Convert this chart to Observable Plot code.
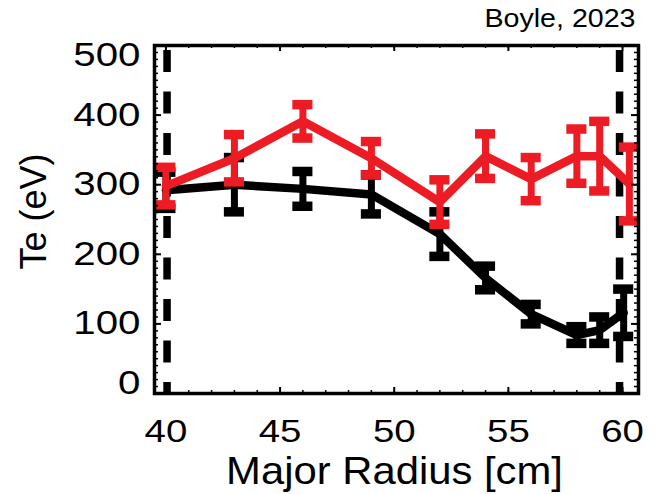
<!DOCTYPE html>
<html><head><meta charset="utf-8">
<script src="https://cdn.jsdelivr.net/npm/d3@7"></script>
<script src="https://cdn.jsdelivr.net/npm/@observablehq/plot@0.6"></script>
<style>
html,body{margin:0;padding:0;background:#fff;}
#chart svg{display:block;}
</style></head><body><div id="chart"></div>
<script>
// ---- data ----
const radiusBlack = [40, 43, 46, 49, 52, 54, 56, 58, 59, 60.05];
const teBlack     = [292, 300, 294, 286, 229, 166, 114, 84, 91, 116];
const errBlack    = [26, 39, 25, 28, 32, 17, 14, 12, 19, 34];
const radiusRed   = [40, 43, 46, 49, 52, 54, 56, 58, 59, 60.3];
const teRed       = [298, 338, 391, 338, 275, 341, 308, 341, 341, 301];
const errRed      = [27, 34, 24, 24, 32, 32, 31, 39, 50, 53];
const boundaries  = [40.05, 59.87];
const xTicks = [40, 45, 50, 55, 60];
const yTicks = [0, 100, 200, 300, 400, 500];
const xMinor = d3.range(40, 61, 1);
const yMinor = d3.range(0, 501, 10);
const titleText = "Boyle, 2023";
const xLabel = "Major Radius [cm]";
const yLabel = "Te (eV)";

// ---- build tables ----
const black = radiusBlack.map((r, i) => ({r, te: teBlack[i], err: errBlack[i]}));
const red = radiusRed.map((r, i) => ({r, te: teRed[i], err: errRed[i]}));

const W = 656, H = 494, mL = 154, mR = 18, mT = 45, mB = 101;
const plotW = W - mL - mR, plotH = H - mT - mB;
const RED = "#ec1b24";
const capHalf = 0.44; // half cap width in x units (~10px)

function series(data, color) {
  return [
    Plot.line(data, {x: "r", y: "te", stroke: color, strokeWidth: 8.5, strokeLinejoin: "round", clip: true}),
    Plot.ruleX(data, {x: "r", y1: d => d.te - d.err, y2: d => d.te + d.err, stroke: color, strokeWidth: 7, clip: true}),
    Plot.ruleY(data, {y: d => d.te + d.err, x1: d => d.r - capHalf, x2: d => d.r + capHalf, stroke: color, strokeWidth: 9.5, clip: true}),
    Plot.ruleY(data, {y: d => d.te - d.err, x1: d => d.r - capHalf, x2: d => d.r + capHalf, stroke: color, strokeWidth: 9.5, clip: true})
  ];
}

const chart = Plot.plot({
  width: W, height: H,
  marginLeft: mL, marginRight: mR, marginTop: mT, marginBottom: mB,
  style: {fontFamily: "'Liberation Sans', Arial, sans-serif", fontSize: "32px", color: "#000", background: "#fff"},
  x: {domain: [39.5, 60.7], label: null},
  y: {domain: [0, 500], label: null},
  marks: [
    Plot.ruleX(boundaries, {x: d => d, y1: 500, y2: 0, stroke: "#000", strokeWidth: 7.5, strokeDasharray: "22,19.5", strokeDashoffset: -5}),
    ...series(black, "#000"),
    ...series(red, RED),
    // inward ticks
    Plot.tickX(xMinor, {x: d => d, insetTop: plotH - 3, stroke: "#000", strokeWidth: 1.5}),
    Plot.tickX(xMinor, {x: d => d, insetBottom: plotH - 3, stroke: "#000", strokeWidth: 1.5}),
    Plot.tickX(xTicks, {x: d => d, insetTop: plotH - 6, stroke: "#000", strokeWidth: 2}),
    Plot.tickX(xTicks, {x: d => d, insetBottom: plotH - 6, stroke: "#000", strokeWidth: 2}),
    Plot.tickY(yMinor, {y: d => d, insetRight: plotW - 4, stroke: "#000", strokeWidth: 1.5}),
    Plot.tickY(yMinor, {y: d => d, insetLeft: plotW - 4, stroke: "#000", strokeWidth: 1.5}),
    Plot.tickY(yTicks, {y: d => d, insetRight: plotW - 7, stroke: "#000", strokeWidth: 2}),
    Plot.tickY(yTicks, {y: d => d, insetLeft: plotW - 7, stroke: "#000", strokeWidth: 2}),
    Plot.frame({stroke: "#000", strokeWidth: 3.5}),
    // axes
    Plot.axisX(xTicks, {tickSize: 0, tickPadding: 26, label: null}),
    Plot.axisY(yTicks.filter(v => v > 0 && v < 500), {tickSize: 0, tickPadding: 14, label: null, fontSize: 33}),
    Plot.axisY(yTicks.filter(v => v === 0), {tickSize: 0, tickPadding: 14, label: null, dy: -10, fontSize: 33}),
    Plot.axisY(yTicks.filter(v => v === 500), {tickSize: 0, tickPadding: 14, label: null, dy: 10, fontSize: 33}),
    // labels
    Plot.text([xLabel], {frameAnchor: "bottom", dy: 64, dx: -2, lineAnchor: "top", fontSize: 38, fill: "#000"}),
    Plot.text([yLabel], {frameAnchor: "left", dx: -120, dy: -8, rotate: -90, fontSize: 36, lineAnchor: "middle", textAnchor: "middle", fill: "#000"}),
    Plot.text([titleText], {frameAnchor: "top-right", dx: -3, dy: -37, lineAnchor: "top", textAnchor: "end", fontSize: 26, fill: "#000"})
  ]
});

// horizontal stretch of text, as in the reference picture
function stretchAll(sel, s) {
  chart.querySelectorAll(sel).forEach(t => {
    t.setAttribute("transform", (t.getAttribute("transform") || "") + ` scale(${s},1)`);
  });
}
function stretchText(content, s) {
  chart.querySelectorAll("text").forEach(t => {
    if (t.textContent === content) t.setAttribute("transform", (t.getAttribute("transform") || "") + ` scale(${s},1)`);
  });
}
stretchAll('g[aria-label="x-axis tick label"] text', 1.2);
stretchAll('g[aria-label="y-axis tick label"] text', 1.22);
stretchText(xLabel, 1.1);
stretchText(titleText, 1.1);

document.getElementById("chart").appendChild(chart);
</script></body></html>
